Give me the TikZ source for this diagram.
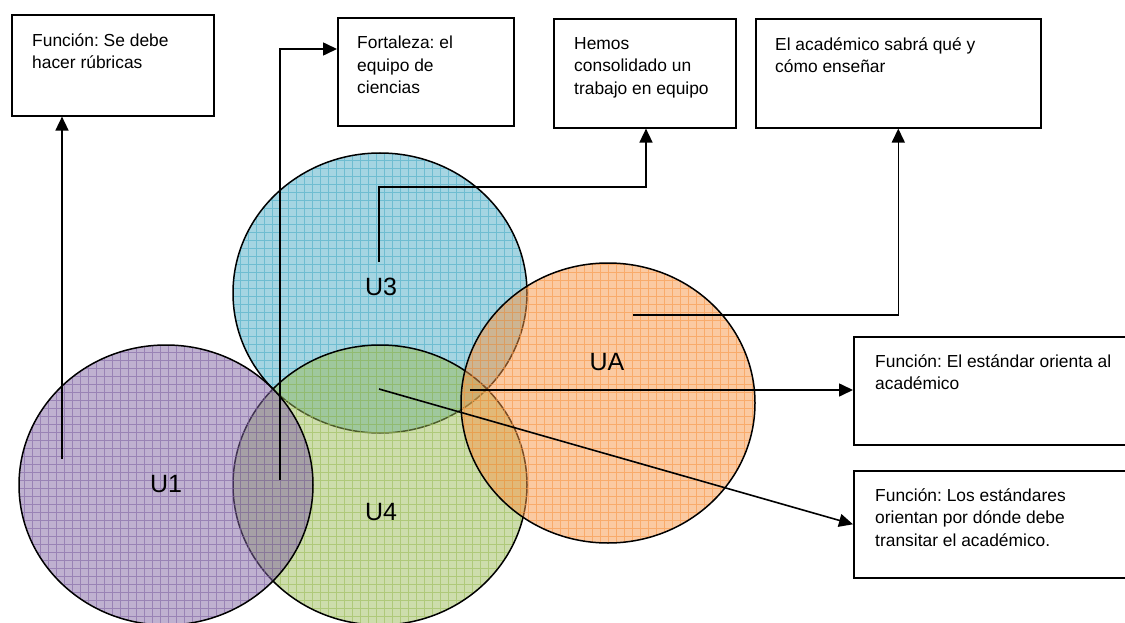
\documentclass[tikz,border=0pt]{standalone}
\usepackage{fontspec}
\setmainfont{Liberation Sans}
\usetikzlibrary{arrows.meta,calc}
\frenchspacing

\definecolor{setpurple}{HTML}{8064A2}
\definecolor{setaqua}{HTML}{4BACC6}
\definecolor{setolive}{HTML}{9BBB59}
\definecolor{setorange}{HTML}{F79646}

% a half-transparent ellipse with a grid texture and a black rim
\newcommand\vennset[2]{%
  \fill[#2, fill opacity=0.5] (#1) ellipse [x radius=147, y radius=140];
  \begin{scope}
    \clip (#1) ellipse [x radius=147, y radius=140];
    \draw[#2, line width=0.7pt, opacity=0.6, step=8pt]
      ($(#1)+(-152,152)$) grid ($(#1)+(152,-152)$);
  \end{scope}
  \draw[line width=1.5pt] (#1) ellipse [x radius=147, y radius=140];
}

\begin{document}
\begin{tikzpicture}[x=1pt,y=-1pt,
  box/.style={draw=black, line width=1.6pt, anchor=north west, inner sep=0pt},
  txt/.style={anchor=north west, inner sep=0pt, align=left,
              font=\fontsize{17.4}{22.5}\selectfont},
  lbl/.style={inner sep=0pt, font=\fontsize{25}{30}\selectfont},
  arr/.style={line width=1.6pt, -{Triangle[length=14pt,width=13pt]}},
  link/.style={line width=1.6pt}]
\useasboundingbox (0,0) rectangle (1125,623);

% centres of the four sets
\coordinate (cu3) at (380,293);
\coordinate (cu4) at (380,485);
\coordinate (cu1) at (166,485);
\coordinate (cua) at (608,403);

\vennset{cu3}{setaqua}
\vennset{cu4}{setolive}
\vennset{cu1}{setpurple}
\vennset{cua}{setorange}

\node[lbl] (u1) at (166,484) {U1};
\node[lbl] (u3) at (381,287) {U3};
\node[lbl] (u4) at (381,512) {U4};
\node[lbl] (ua) at (607,362) {UA};

% text boxes
\node[box, minimum width=202, minimum height=101] (b1) at (11,14) {};
\node[box, minimum width=176, minimum height=108] (b2) at (337,17) {};
\node[box, minimum width=182, minimum height=109] (b3) at (553,18) {};
\node[box, minimum width=285, minimum height=109] (b4) at (755,18) {};
\node[box, minimum width=290, minimum height=108] (b5) at (853,336) {};
\node[box, minimum width=290, minimum height=107] (b6) at (853,470) {};

\node[txt] (t1) at ($(b1.north west)+(21,19)$) {Función: Se debe\\hacer rúbricas};
\node[txt] (t2) at ($(b2.north west)+(20,19)$) {Fortaleza: el\\equipo de\\ciencias};
\node[txt] (t3) at ($(b3.north west)+(21,19)$) {Hemos\\consolidado un\\trabajo en equipo};
\node[txt] (t4) at ($(b4.north west)+(20,19)$) {El académico sabrá qué y\\cómo enseñar};
\node[txt] (t5) at ($(b5.north west)+(22,18)$) {Función: El estándar orienta al\\académico};
\node[txt] (t6) at ($(b6.north west)+(22,18)$) {Función: Los estándares\\orientan por dónde debe\\transitar el académico.};

% starting points of the connectors
\coordinate (s1) at (62,459);
\coordinate (s2) at (280,480);
\coordinate (s3) at (379,262);
\coordinate (k3) at (646,187);
\coordinate (s4) at (633,315);
\coordinate (s5) at (470,390);
\coordinate (s6) at (379,389);
\coordinate (e2) at (337,49);

\draw[arr] (s1) -- (s1 |- b1.south);
\draw[arr] (s2) |- (e2 -| b2.west);
\draw[arr] (s3) |- (k3) -- (k3 |- b3.south);
\draw[arr] (s4) -| (b4.south);
\draw[arr] (s5) -- (s5 -| b5.west);
\draw[arr] (s6) -- (b6.west);
\end{tikzpicture}
\end{document}
